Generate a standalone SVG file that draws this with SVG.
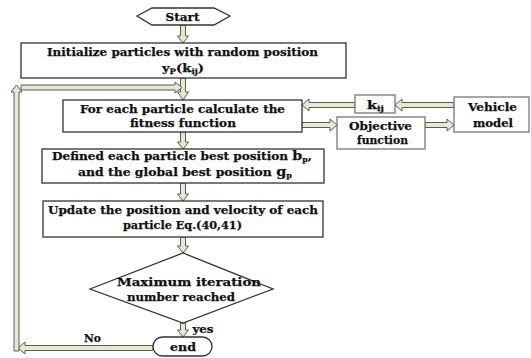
<svg xmlns="http://www.w3.org/2000/svg" width="531" height="358" viewBox="0 0 531 358">
<style>
.bx{fill:#fff;stroke:#333;stroke-width:1.3}
.bx2{fill:#fff;stroke:#777;stroke-width:1.3}
.ba{fill:#e6e8d2;stroke:#5c5c50;stroke-width:1}
text{font-family:"DejaVu Serif","Liberation Serif",serif;font-weight:bold;font-size:11.5px;fill:#111;stroke:#111;stroke-width:0.25;text-anchor:middle}
.sub{font-size:7.5px}
.big{font-size:13.5px}
</style>
<rect width="531" height="358" fill="#fff"/>
<g id="connectors">
<path class="ba" d="M180.5,25 V36 H177.5 L183,43 L188.5,36 H185.5 V25 Z"/>
<path class="ba" d="M180.5,78 V92 H177.5 L183,100 L188.5,92 H185.5 V78 Z"/>
<path class="ba" d="M180.5,132 V142 H177.5 L183,149 L188.5,142 H185.5 V132 Z"/>
<path class="ba" d="M180.5,183 V194 H177.5 L183,201 L188.5,194 H185.5 V183 Z"/>
<path class="ba" d="M180.5,237 V246 H177.5 L183,253 L188.5,246 H185.5 V237 Z"/>
<path class="ba" d="M180.5,323 V330 H177.5 L183,337 L188.5,330 H185.5 V323 Z"/>
<path class="ba" d="M454,102.5 H402 V99 L395,105 L402,111 V107.5 H454 Z"/>
<path class="ba" d="M355,102.5 H309 V99 L302,105 L309,111 V107.5 H355 Z"/>
<path class="ba" d="M302,122.5 H330 V119 L337,125 L330,131 V127.5 H302 Z"/>
<path class="ba" d="M425,122.5 H447 V119 L454,125 L447,131 V127.5 H425 Z"/>
<path class="ba" d="M153,345.5 H25 V342 L18,348 L25,354 V350.5 H153 Z"/>
<path class="ba" d="M14,351 V92 H11 L16.5,85 L22,92 H19 V351 Z"/>
<path class="ba" d="M21,85 H175 V82 L182,87.5 L175,93 V90 H21 Z"/>
<text x="92.5" y="342" textLength="17" lengthAdjust="spacingAndGlyphs">No</text>
<text x="203" y="333" textLength="21" lengthAdjust="spacingAndGlyphs">yes</text>
</g>
<g id="start">
<polygon class="bx" points="137,16 152,8 214,8 230,16 214,25 152,25"/>
<text x="182.5" y="20.5" textLength="34" lengthAdjust="spacingAndGlyphs">Start</text>
</g>
<g id="init">
<rect class="bx" x="21" y="43" width="325" height="35"/>
<text x="182.5" y="56" textLength="271" lengthAdjust="spacingAndGlyphs">Initialize particles with random position</text>
<text x="183" y="72" font-size="14.5" textLength="42" lengthAdjust="spacingAndGlyphs">y<tspan class="sub" dy="2">P</tspan><tspan dy="-2">(k</tspan><tspan class="sub" dy="2">ij</tspan><tspan dy="-2">)</tspan></text>
</g>
<g id="fitness">
<rect class="bx" x="63" y="100" width="239" height="32"/>
<text x="182.5" y="113" textLength="205" lengthAdjust="spacingAndGlyphs">For each particle calculate the</text>
<text x="183" y="127" textLength="106" lengthAdjust="spacingAndGlyphs">fitness function</text>
</g>
<g id="kij">
<rect class="bx2" x="355" y="95" width="40" height="18"/>
<text x="375.5" y="108.5" font-size="14.5" textLength="17" lengthAdjust="spacingAndGlyphs">k<tspan class="sub" dy="2">ij</tspan></text>
</g>
<g id="vehicle">
<rect class="bx2" x="454" y="97" width="75" height="35"/>
<text x="492.5" y="111" textLength="49" lengthAdjust="spacingAndGlyphs">Vehicle</text>
<text x="493" y="127" textLength="40" lengthAdjust="spacingAndGlyphs">model</text>
</g>
<g id="objective">
<rect class="bx2" x="337" y="117" width="88" height="32"/>
<text x="380.5" y="130" textLength="63" lengthAdjust="spacingAndGlyphs">Objective</text>
<text x="382.5" y="144" textLength="51" lengthAdjust="spacingAndGlyphs">function</text>
</g>
<g id="defined">
<rect class="bx" x="42" y="149" width="282" height="34"/>
<text x="182" y="160" textLength="260" lengthAdjust="spacingAndGlyphs">Defined each particle best position <tspan class="big">b</tspan><tspan class="sub" dy="2">p</tspan><tspan dy="-2">,</tspan></text>
<text x="185" y="176" textLength="214" lengthAdjust="spacingAndGlyphs">and the global best position <tspan class="big">g</tspan><tspan class="sub" dy="2">p</tspan></text>
</g>
<g id="update">
<rect class="bx" x="43" y="201" width="280" height="36"/>
<text x="183" y="214" textLength="270" lengthAdjust="spacingAndGlyphs">Update the position and velocity of each</text>
<text x="182.5" y="229" textLength="119" lengthAdjust="spacingAndGlyphs">particle Eq.(40,41)</text>
</g>
<g id="decision">
<polygon class="bx" points="90,289 183,253 273,289 183,323"/>
<text x="189" y="286" textLength="144" lengthAdjust="spacingAndGlyphs">Maximum iteration</text>
<text x="181" y="301" textLength="108" lengthAdjust="spacingAndGlyphs">number reached</text>
</g>
<g id="end">
<rect class="bx" x="153" y="337" width="59" height="19" rx="9.5"/>
<text x="183" y="351" textLength="26" lengthAdjust="spacingAndGlyphs">end</text>
</g>
</svg>
